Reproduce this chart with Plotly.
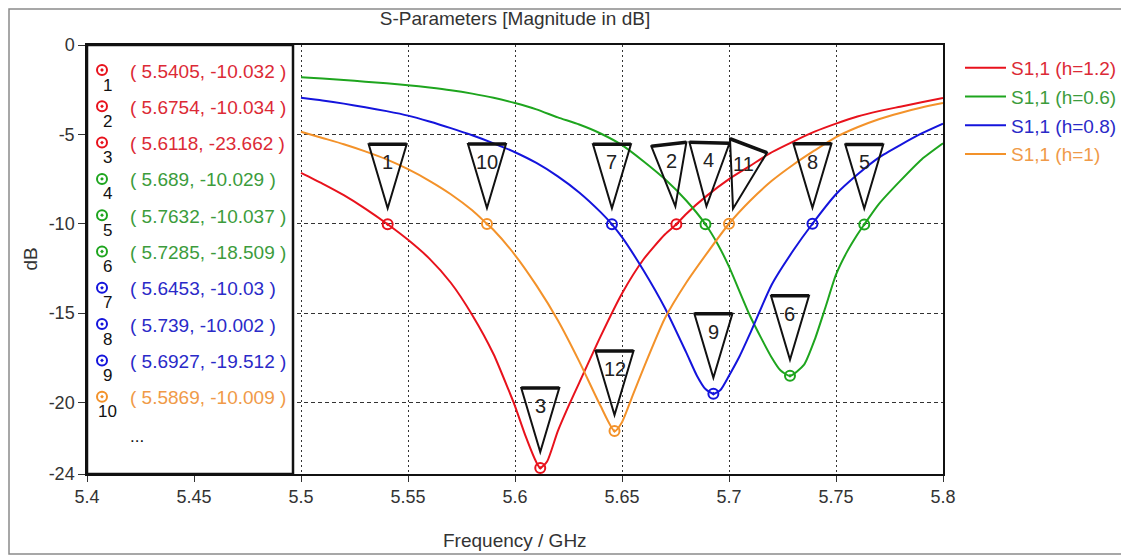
import plotly.graph_objects as go

# ---------------- data ----------------
freq_h12 = [5.50, 5.51, 5.52, 5.53, 5.5405, 5.55, 5.56, 5.57, 5.58, 5.59, 5.597, 5.60, 5.605, 5.61,
            5.6118, 5.615, 5.62, 5.625, 5.63, 5.64, 5.65, 5.66, 5.67, 5.6754, 5.68, 5.69, 5.70, 5.71,
            5.72, 5.73, 5.74, 5.75, 5.76, 5.77, 5.78, 5.79, 5.80]
s11_h12 = [-7.15, -7.75, -8.4, -9.15, -10.03, -10.9, -11.95, -13.3, -15.1, -17.3, -19.3, -20.2, -21.9, -23.35,
           -23.66, -23.3, -21.6, -20.2, -18.9, -16.3, -13.9, -12.0, -10.6, -10.03, -9.45, -8.4, -7.5, -6.75,
           -6.0, -5.4, -4.85, -4.4, -4.0, -3.7, -3.45, -3.2, -2.96]

freq_h06 = [5.50, 5.51, 5.52, 5.53, 5.54, 5.55, 5.56, 5.57, 5.58, 5.59, 5.60, 5.61, 5.62, 5.63, 5.64,
            5.65, 5.66, 5.67, 5.68, 5.689, 5.695, 5.70, 5.71, 5.72, 5.724, 5.7285, 5.735, 5.74, 5.745,
            5.75, 5.755, 5.76, 5.7632, 5.77, 5.78, 5.79, 5.80]
s11_h06 = [-1.8, -1.88, -1.96, -2.05, -2.14, -2.25, -2.38, -2.53, -2.72, -2.95, -3.25, -3.6, -4.05, -4.45, -4.95,
           -5.6, -6.5, -7.5, -8.7, -10.03, -11.2, -12.4, -15.2, -17.5, -18.2, -18.51, -17.9, -16.5, -14.7,
           -12.85, -11.6, -10.6, -10.04, -8.9, -7.6, -6.4, -5.5]

freq_h08 = [5.50, 5.51, 5.52, 5.53, 5.54, 5.55, 5.56, 5.57, 5.58, 5.59, 5.60, 5.61, 5.62, 5.63, 5.64,
            5.6453, 5.65, 5.66, 5.67, 5.68, 5.685, 5.689, 5.6927, 5.696, 5.70, 5.705, 5.71, 5.72, 5.73,
            5.739, 5.75, 5.76, 5.77, 5.78, 5.79, 5.80]
s11_h08 = [-2.95, -3.1, -3.28, -3.48, -3.7, -3.95, -4.28, -4.65, -5.05, -5.5, -6.0, -6.6, -7.35, -8.25, -9.35,
           -10.03, -10.75, -12.6, -14.7, -17.2, -18.5, -19.25, -19.51, -19.3, -18.5, -17.4, -16.1, -13.4, -11.5,
           -10.0, -8.35, -7.25, -6.3, -5.6, -4.95, -4.4]

freq_h10 = [5.50, 5.51, 5.52, 5.53, 5.54, 5.55, 5.56, 5.57, 5.58, 5.5869, 5.59, 5.60, 5.61, 5.62, 5.63,
            5.64, 5.6465, 5.65, 5.655, 5.66, 5.67, 5.68, 5.69, 5.70, 5.71, 5.72, 5.73, 5.74, 5.75, 5.76,
            5.77, 5.78, 5.79, 5.80]
s11_h10 = [-4.85, -5.2, -5.55, -5.95, -6.4, -6.95, -7.6, -8.35, -9.25, -10.01, -10.35, -11.75, -13.45, -15.4, -17.7,
           -20.2, -21.6, -21.1, -19.6, -18.1, -15.3, -13.3, -11.6, -10.0, -8.7, -7.6, -6.7, -5.9, -5.15, -4.6,
           -4.15, -3.8, -3.5, -3.25]

series_names = ["S1,1 (h=1.2)", "S1,1 (h=0.6)", "S1,1 (h=0.8)", "S1,1 (h=1)"]
series_freq = [freq_h12, freq_h06, freq_h08, freq_h10]
series_vals = [s11_h12, s11_h06, s11_h08, s11_h10]

marker_ids = [1, 2, 3, 4, 5, 6, 7, 8, 9, 10, 11, 12]
marker_x = [5.5405, 5.6754, 5.6118, 5.689, 5.7632, 5.7285, 5.6453, 5.739, 5.6927, 5.5869, 5.70, 5.6465]
marker_y = [-10.032, -10.034, -23.662, -10.029, -10.037, -18.509, -10.03, -10.002, -19.512, -10.009, -10.0, -21.6]
marker_series = [0, 0, 0, 1, 1, 1, 2, 2, 2, 3, 3, 3]
table_count = 10

x_tickvals = [5.4, 5.45, 5.5, 5.55, 5.6, 5.65, 5.7, 5.75, 5.8]
x_ticktext = ["5.4", "5.45", "5.5", "5.55", "5.6", "5.65", "5.7", "5.75", "5.8"]
y_tickvals = [0, -5, -10, -15, -20, -24]
y_ticktext = ["0", "-5", "-10", "-15", "-20", "-24"]

# ---------------- style ----------------
line_colors = ["#e8121c", "#1ea51e", "#1414dc", "#f3922a"]
text_colors = ["#dc2a36", "#3c9c3c", "#2a2ac8", "#f09a48"]
FONT = "Liberation Sans, Arial, sans-serif"

PAGE_W, PAGE_H = 1129, 560
OFF = 8                      # default body margin of the html page
W, H = PAGE_W - OFF, PAGE_H - OFF
# plot area in page pixels
L, R, T, B = 87, 943, 45, 474
XMIN, XMAX, YMIN, YMAX = 5.4, 5.8, -24, 0
pxx = (R - L) / (XMAX - XMIN)
pxy = (B - T) / (YMAX - YMIN)


def xd(px):
    return XMIN + (px - L) / pxx


def yd(py):
    return YMAX - (py - T) / pxy


fig = go.Figure()

for i in range(4):
    fig.add_trace(go.Scatter(
        x=series_freq[i], y=series_vals[i], mode="lines",
        line=dict(color=line_colors[i], width=2, shape="spline", smoothing=0.6),
        name="<span style='color:%s'>%s</span>" % (text_colors[i], series_names[i]),
        legendgroup="g%d" % i, hoverinfo="x+y",
    ))

# markers on curves
fig.add_trace(go.Scatter(
    x=marker_x, y=marker_y, mode="markers", showlegend=False,
    marker=dict(symbol="circle-open-dot", size=10, line=dict(width=2),
                color=[line_colors[s] for s in marker_series]),
))

# marker table markers
row_y = [yd(70 + 36.3 * k) for k in range(table_count)]
fig.add_trace(go.Scatter(
    x=[xd(102)] * table_count, y=row_y, mode="markers", showlegend=False,
    marker=dict(symbol="circle-open-dot", size=10, line=dict(width=2),
                color=[line_colors[marker_series[k]] for k in range(table_count)]),
))

shapes = []
annotations = []

# white table box
shapes.append(dict(type="rect", xref="x", yref="y", x0=XMIN, x1=xd(293), y0=YMIN, y1=YMAX,
                   line=dict(color="#111", width=2.5), fillcolor="white", layer="between"))

# table text
for k in range(table_count):
    s = marker_series[k]
    annotations.append(dict(x=xd(128), y=yd(71 + 36.3 * k), xref="x", yref="y",
                            text="( %g, %g )" % (marker_x[k], marker_y[k]), showarrow=False,
                            xanchor="left", yanchor="middle",
                            font=dict(family=FONT, size=19, color=text_colors[s])))
    annotations.append(dict(x=xd(107), y=yd(85 + 36.3 * k), xref="x", yref="y",
                            text=str(marker_ids[k]), showarrow=False, xanchor="center", yanchor="middle",
                            font=dict(family=FONT, size=17, color="#111")))
annotations.append(dict(x=xd(128), y=yd(436), xref="x", yref="y", text="...", showarrow=False,
                        xanchor="left", yanchor="middle", font=dict(family=FONT, size=17, color="#111")))

# triangle flags above curve markers
default_tri = ((-19, 80), (19, 80), (0, 16))
special_tri = {2: ((-25, 78), (10, 82), (-1, 18)),
               4: ((-16, 82), (24, 81), (1, 18)),
               11: ((1, 85), (38, 71), (4, 15))}
label_off = {2: (-5, 63), 4: (3, 64), 11: (14, 60)}
for mid, mx, my in zip(marker_ids, marker_x, marker_y):
    a, b, c = special_tri.get(mid, default_tri)
    common = dict(type="path", xref="x", yref="y", xsizemode="pixel", ysizemode="pixel",
                  xanchor=mx, yanchor=my, layer="above")
    shapes.append(dict(path="M %d,%d L %d,%d L %d,%d Z" % (a[0], a[1], b[0], b[1], c[0], c[1]),
                       line=dict(color="#111", width=2), **common))
    shapes.append(dict(path="M %d,%d L %d,%d" % (a[0], a[1], b[0], b[1]),
                       line=dict(color="#111", width=3.5), **common))
    ox, oy = label_off.get(mid, (0, 62))
    annotations.append(dict(x=mx, y=my, xref="x", yref="y", xshift=ox, yshift=oy, text=str(mid),
                            showarrow=False, font=dict(family=FONT, size=20, color="#222")))

# outer frame (page pixels 8..1124 x 8..554)
shapes.append(dict(type="rect", xref="paper", yref="paper",
                   x0=(OFF + 1 - L) / (R - L), x1=(1124 - L) / (R - L),
                   y0=(B - 554) / (B - T), y1=(B - OFF - 1) / (B - T),
                   line=dict(color="#8a8a8a", width=1.5), layer="below"))

# axis titles
annotations.append(dict(x=0.5, y=0, xref="paper", yref="paper", yshift=-(540 - B), text="Frequency / GHz",
                        xanchor="center", yanchor="middle",
                        showarrow=False, font=dict(family=FONT, size=19, color="#333")))
annotations.append(dict(x=0, y=0.5, xref="paper", yref="paper", xshift=-(L - 30), text="dB", textangle=-90,
                        xanchor="center", yanchor="middle",
                        showarrow=False, font=dict(family=FONT, size=19, color="#333")))

fig.update_layout(
    width=W, height=H,
    margin=dict(l=L - OFF, r=PAGE_W - R, t=T - OFF, b=PAGE_H - B, autoexpand=False),
    paper_bgcolor="white", plot_bgcolor="white",
    title=dict(text="S-Parameters [Magnitude in dB]", x=(L + R) / 2 / W - OFF / W, xanchor="center",
               y=1 - (18 - OFF) / H, yanchor="middle", font=dict(family=FONT, size=19, color="#333")),
    xaxis=dict(range=[XMIN, XMAX], tickvals=x_tickvals, ticktext=x_ticktext, showgrid=True,
               gridcolor="#333", griddash="2px,3px", gridwidth=1, zeroline=False,
               showline=True, linecolor="#111", linewidth=1.5, mirror=True,
               ticks="outside", ticklen=6, tickcolor="#333",
               tickfont=dict(family=FONT, size=18, color="#333")),
    yaxis=dict(range=[YMIN, YMAX], tickvals=y_tickvals, ticktext=y_ticktext, showgrid=True,
               gridcolor="#333", griddash="4px,3px", gridwidth=1, zeroline=False,
               showline=True, linecolor="#111", linewidth=1.5, mirror=True,
               ticks="outside", ticklen=7, tickcolor="#333",
               tickfont=dict(family=FONT, size=18, color="#333")),
    legend=dict(x=(960 - L) / (R - L), y=(B - 49) / (B - T), xanchor="left", yanchor="top",
                font=dict(family=FONT, size=19), tracegroupgap=1, itemwidth=41,
                bgcolor="rgba(0,0,0,0)"),
    shapes=shapes, annotations=annotations,
)

fig.write_html("out.html")
